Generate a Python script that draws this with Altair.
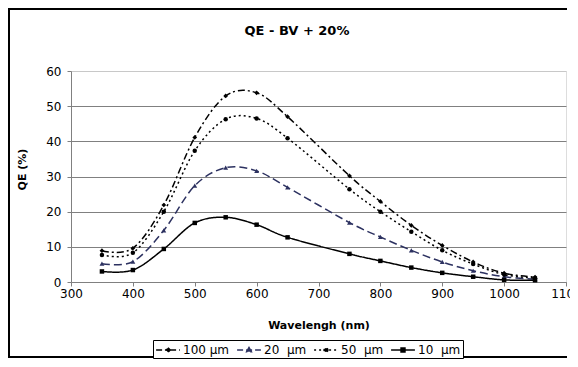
import altair as alt
import pandas as pd

# ---- data ----
wavelength = [350, 400, 450, 500, 550, 600, 650, 750, 800, 850, 900, 950, 1000, 1050]
series = ["100 µm", "20\u00a0\u00a0µm", "50\u00a0\u00a0µm", "10\u00a0\u00a0µm"]
qe_100 = [8.9, 9.6, 21.9, 41.1, 52.9, 53.8, 47.0, 30.2, 22.9, 16.1, 10.4, 5.7, 2.5, 1.4]
qe_20 = [5.2, 5.8, 14.7, 27.4, 32.5, 31.6, 26.9, 16.9, 12.8, 9.0, 5.7, 3.2, 1.5, 0.8]
qe_50 = [7.7, 8.3, 20.0, 37.3, 46.3, 46.5, 40.9, 26.4, 20.0, 14.3, 9.0, 5.1, 2.1, 1.1]
qe_10 = [3.0, 3.4, 9.4, 16.8, 18.4, 16.3, 12.7, 8.0, 6.0, 4.1, 2.6, 1.5, 0.6, 0.5]
x_ticks = [300, 400, 500, 600, 700, 800, 900, 1000, 1100]
y_ticks = [0, 10, 20, 30, 40, 50, 60]
title_text = ["QE - BV + 20%"]

# ---- styles ----
colors = ["#000000", "#2c3160", "#000000", "#000000"]
dashes = [[7, 3, 2, 3], [8, 4], [2, 3], [1, 0]]
marker_shapes = ["diamond", "triangle-up", "circle", "square"]
marker_sizes = [22, 24, 20, 20]
legend_paths = [
    "M-1.7,0H1.7M0,-0.32L0.32,0L0,0.32L-0.32,0Z",
    "M-1.7,0H1.7M0,-0.34L0.34,0.26L-0.34,0.26Z",
    "M-1.7,0H1.7M0.28,0A0.28,0.28,0,1,1,-0.28,0A0.28,0.28,0,1,1,0.28,0Z",
    "M-1.7,0H1.7M-0.28,-0.28H0.28V0.28H-0.28Z",
]
legend_dashes = [[6, 3, 2, 3], [6, 3], [2, 3], [1, 0]]

rows = []
for name, vals in zip(series, [qe_100, qe_20, qe_50, qe_10]):
    for w, v in zip(wavelength, vals):
        rows.append({"Wavelength": w, "QE": v, "Series": name})
df = pd.DataFrame(rows)

FONT = "DejaVu Sans"

x_enc = alt.X(
    "Wavelength:Q",
    scale=alt.Scale(domain=[300, 1100], nice=False, zero=False),
    axis=alt.Axis(
        values=x_ticks, format="d", title="Wavelengh (nm)", grid=False,
        domainColor="#808080", tickColor="#808080", tickSize=4,
        labelPadding=2, labelFontSize=12, labelFont=FONT, labelColor="#000000",
        labelFlush=False, labelOverlap=False,
        titleFont=FONT, titleFontSize=11, titleFontWeight="bold",
        titleColor="#000000", titlePadding=20,
    ),
)
y_enc = alt.Y(
    "QE:Q",
    scale=alt.Scale(domain=[0, 60], nice=False),
    axis=alt.Axis(
        values=y_ticks, title="QE (%)",
        domainColor="#808080", tickColor="#808080", tickSize=4,
        gridColor={"condition": {"test": "datum.value === 60", "value": "#c8c8c8"}, "value": "#808080"},
        gridWidth=1,
        labelPadding=6, labelFontSize=12, labelFont=FONT, labelColor="#000000",
        labelFlush=False,
        titleFont=FONT, titleFontSize=11, titleFontWeight="bold", titleColor="#000000",
        titleX=-49, titleY=98, titleAngle=270, titleAlign="center", titleBaseline="middle",
    ),
)

base = alt.Chart(df)

layers = []
for name, shp, sz, col, dash in zip(series, marker_shapes, marker_sizes, colors, dashes):
    sub = base.transform_filter(alt.datum.Series == name)
    layers.append(
        sub.mark_line(interpolate="cardinal", strokeWidth=1.5, color=col, strokeDash=dash)
        .encode(x=x_enc, y=y_enc)
    )
    layers.append(
        sub.mark_point(shape=shp, size=sz, filled=True, color=col, opacity=1)
        .encode(x=x_enc, y=y_enc)
    )

legend = alt.Legend(
    title=None, orient="none", legendX=82, legendY=269, direction="horizontal",
    strokeColor="#000000", fillColor="#ffffff", padding=2, cornerRadius=0,
    labelFont=FONT, labelFontSize=12, labelColor="#000000",
    symbolSize=196, symbolStrokeWidth=1.5, symbolOpacity=1, symbolOffset=5,
    labelOffset=7, columnPadding=4,
)

legend_layer = base.mark_point(opacity=0, filled=False, strokeWidth=1.5).encode(
    x=x_enc, y=y_enc,
    stroke=alt.Stroke("Series:N", scale=alt.Scale(domain=series, range=colors), legend=legend),
    fill=alt.Fill("Series:N", scale=alt.Scale(domain=series, range=colors), legend=legend),
    shape=alt.Shape("Series:N", scale=alt.Scale(domain=series, range=legend_paths), legend=legend),
    strokeDash=alt.StrokeDash("Series:N", scale=alt.Scale(domain=series, range=legend_dashes), legend=legend),
)

one = alt.Chart(pd.DataFrame({"f": [0]}))
frame_left = one.mark_rule(stroke="#000000", strokeWidth=2).encode(
    x=alt.value(-62), y=alt.value(-63), y2=alt.value(287)
)
frame_top = one.mark_rule(stroke="#000000", strokeWidth=2).encode(
    x=alt.value(-63), x2=alt.value(496), y=alt.value(-62)
)
frame_bottom = one.mark_rule(stroke="#000000", strokeWidth=2).encode(
    x=alt.value(-63), x2=alt.value(496), y=alt.value(286)
)

title = alt.Chart(pd.DataFrame({"t": title_text})).mark_text(
    font=FONT, fontSize=13, fontWeight="bold", color="#000000",
    align="center", baseline="middle",
).encode(text="t:N", x=alt.value(226), y=alt.value(-40))

chart = alt.layer(frame_left, frame_top, frame_bottom, title, *layers, legend_layer).properties(
    width=495, height=211,
    padding={"left": 63, "top": 63, "right": 4, "bottom": 77},
    autosize=alt.AutoSizeParams(type="none"),
).configure_view(
    stroke="#c8c8c8", strokeWidth=1
).configure(background="#ffffff")

chart.save("out.html", embed_options={"renderer": "svg", "actions": False})
